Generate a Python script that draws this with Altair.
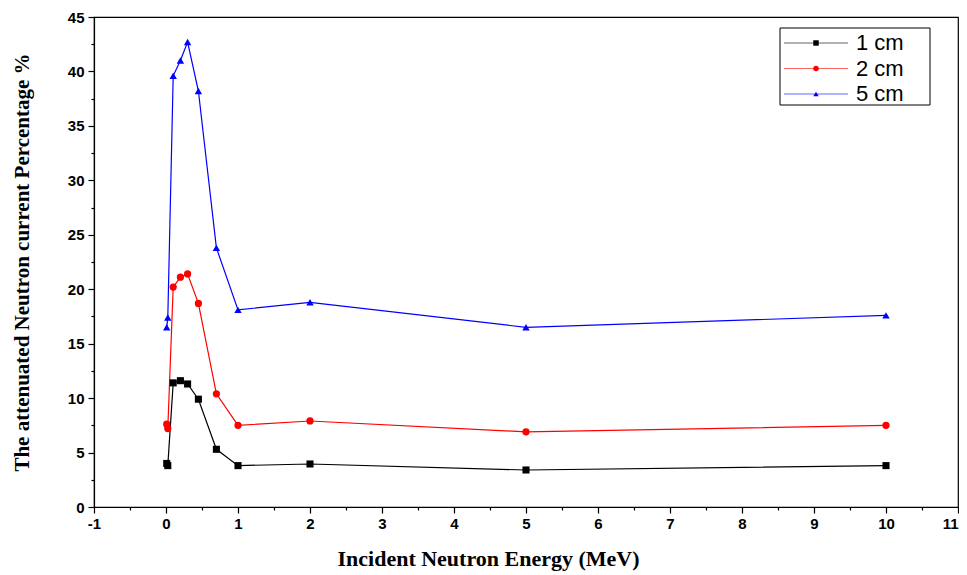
import altair as alt
import pandas as pd

energy = [0.01, 0.025, 0.1, 0.2, 0.3, 0.45, 0.7, 1, 2, 5, 10]
cm1 = [4.0, 3.8, 11.4, 11.6, 11.3, 9.9, 5.3, 3.8, 3.95, 3.4, 3.8]
cm2 = [7.6, 7.2, 20.2, 21.1, 21.4, 18.7, 10.4, 7.5, 7.9, 6.9, 7.5]
cm5 = [16.5, 17.4, 39.6, 41.0, 42.7, 38.2, 23.8, 18.1, 18.8, 16.5, 17.6]
series_names = ["1 cm", "2 cm", "5 cm"]
series_colors = ["#000000", "#ff0000", "#0000ff"]
series_shapes = ["square", "circle", "triangle-up"]
series_sizes = [50, 55, 85]
legend_sizes = [30, 30, 45]

rows = []
for name, vals in zip(series_names, [cm1, cm2, cm5]):
    for i, (e, v) in enumerate(zip(energy, vals)):
        rows.append({"energy": e, "value": v, "series": name, "idx": i})
df = pd.DataFrame(rows)
legend_df = pd.DataFrame({"series": series_names})
frame_df = pd.DataFrame({"k": [0]})

x_ticks = [v / 2 for v in range(-2, 23)]
y_ticks = [v * 2.5 for v in range(0, 19)]

xenc = alt.X(
    "energy:Q",
    scale=alt.Scale(domain=[-1, 11], nice=False, zero=False),
    axis=alt.Axis(
        values=x_ticks,
        labelExpr="datum.value % 1 === 0 ? '' + datum.value : ''",
        labelAlign={"expr": "datum.value >= 11 ? 'right' : 'center'"},
        tickSize={"expr": "datum.value % 1 === 0 ? 6 : 3"},
        title="Incident Neutron Energy (MeV)",
        titleFont="Liberation Serif",
        titleFontSize=22,
        titleFontWeight="bold",
        titlePadding=17,
        titleX=394,
        titleAlign="center",
        labelFont="Liberation Sans",
        labelFontSize=15,
        labelFontWeight="bold",
        labelColor="#000000",
        labelPadding=3,
        domainColor="#000000",
        tickColor="#000000",
        grid=False,
        labelFlush=False,
    ),
)
yenc = alt.Y(
    "value:Q",
    scale=alt.Scale(domain=[0, 45], nice=False),
    axis=alt.Axis(
        values=y_ticks,
        labelExpr="datum.value % 5 === 0 ? '' + datum.value : ''",
        tickSize={"expr": "datum.value % 5 === 0 ? 6 : 3"},
        title="The attenuated Neutron current Percentage  %",
        titleFont="Liberation Serif",
        titleFontSize=21,
        titleFontWeight="bold",
        titlePadding=35,
        labelFont="Liberation Sans",
        labelFontSize=15,
        labelFontWeight="bold",
        labelColor="#000000",
        labelPadding=4,
        domainColor="#000000",
        tickColor="#000000",
        grid=False,
    ),
)
color = alt.Color(
    "series:N",
    scale=alt.Scale(domain=series_names, range=series_colors),
    legend=None,
)
shape = alt.Shape(
    "series:N",
    scale=alt.Scale(domain=series_names, range=series_shapes),
    legend=None,
)

base = alt.Chart(df)
lines = base.mark_line(strokeWidth=1.2).encode(
    x=xenc, y=yenc, color=color, detail="series:N", order="idx:Q"
)
points = base.mark_point(filled=True, opacity=1).encode(
    x=xenc,
    y=yenc,
    color=color,
    shape=shape,
    size=alt.Size(
        "series:N",
        scale=alt.Scale(domain=series_names, range=series_sizes),
        legend=None,
    ),
)

# manual legend (line + marker symbols, as in the reference)
leg_y = alt.Y(
    "series:N",
    scale=alt.Scale(type="point", domain=series_names, range=[26, 77], padding=0),
    axis=None,
)
leg_frame = alt.Chart(frame_df).mark_rect(
    fill="#ffffff", stroke="#000000", strokeWidth=1
).encode(
    x=alt.value(686), x2=alt.value(836), y=alt.value(11), y2=alt.value(88)
)
leg_lines = alt.Chart(legend_df).mark_rule(strokeWidth=1, opacity=0.6).encode(
    x=alt.value(690), x2=alt.value(754), y=leg_y, color=color
)
leg_points = alt.Chart(legend_df).mark_point(filled=True, opacity=1).encode(
    x=alt.value(722),
    y=leg_y,
    color=color,
    shape=shape,
    size=alt.Size(
        "series:N",
        scale=alt.Scale(domain=series_names, range=legend_sizes),
        legend=None,
    ),
)
leg_text = alt.Chart(legend_df).mark_text(
    align="left", baseline="middle", font="Liberation Sans", fontSize=22, color="#000000"
).encode(x=alt.value(762), y=leg_y, text="series:N")

legend = alt.layer(leg_frame, leg_lines, leg_points, leg_text).resolve_scale(size="independent")

chart = (
    alt.layer(alt.layer(lines, points), legend)
    .resolve_scale(y="independent", size="independent")
    .properties(
        width=864,
        height=490,
        autosize=alt.AutoSizeParams(type="none"),
        padding={"left": 86, "top": 9, "right": 1, "bottom": 66},
    )
    .configure_view(stroke="#000000", strokeWidth=1.2)
    .configure_axis(domainWidth=1.2, tickWidth=1.2)
)

chart.save("out.html", embed_options={"renderer": "svg", "actions": False})
